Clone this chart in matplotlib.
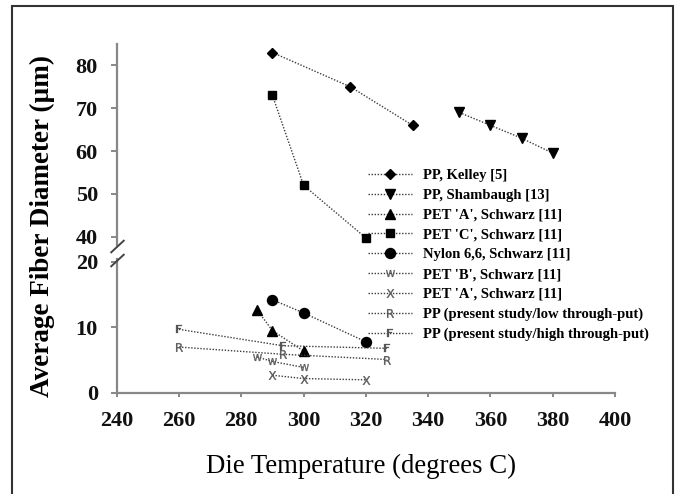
import numpy as np
import matplotlib.pyplot as plt
from matplotlib.patches import Rectangle
from matplotlib.path import Path

# die temperature (C) and average fiber diameter (um) for each series
kelley_t = [290, 315, 335]
kelley_d = [83, 75, 66]
shambaugh_t = [350, 360, 370, 380]
shambaugh_d = [69, 66, 63, 59.5]
pet_a_t = [285, 290, 300]
pet_a_d = [12.7, 9.5, 6.4]
pet_c_t = [290, 300, 320]
pet_c_d = [73, 52, 39]
nylon_t = [290, 300, 320]
nylon_d = [14.2, 12.2, 7.8]
pet_b_t = [285, 290, 300]
pet_b_d = [5.5, 4.8, 3.9]
pet_a2_t = [290, 300, 320]
pet_a2_d = [2.7, 2.2, 2.0]
pp_t = [260, 293.3, 326.7]
pp_low_d = [7.0, 5.9, 5.1]
pp_high_d = [9.7, 7.2, 6.8]

xticks = [240, 260, 280, 300, 320, 340, 360, 380, 400]
yticks = [0, 10, 20, 40, 50, 60, 70, 80]


# broken y axis: 0-20 and 40-85 drawn with different spacing, 20-40 squeezed
def fwd(y):
    y = np.asarray(y, float)
    return np.where(y <= 20, y * 6.55,
                    np.where(y < 40, 131 + (y - 20) * 1.25, 156 + (y - 40) * 4.275))


def inv(t):
    t = np.asarray(t, float)
    return np.where(t <= 131, t / 6.55,
                    np.where(t < 156, 20 + (t - 131) / 1.25, 40 + (t - 156) / 4.275))


serif_b = dict(family='Liberation Serif', weight='bold')

fig = plt.figure(figsize=(6.79, 4.94), dpi=100)
ax = fig.add_axes([0.1719, 0.2045, 0.7339, 0.7065])
ax.set_yscale('function', functions=(fwd, inv))
ax.set_xlim(240, 400)
ax.set_ylim(0, 85)

lk = dict(color='#3c3c3c', lw=1.0, ls=(0, (1, 1.2)))
ax.plot(kelley_t, kelley_d, marker='D', ms=5.5, mfc='k', mec='k', label='PP, Kelley [5]', **lk)
ax.plot(shambaugh_t, shambaugh_d, marker='v', ms=7, mfc='k', mec='k', label='PP, Shambaugh [13]', **lk)
ax.plot(pet_a_t, pet_a_d, marker='^', ms=7, mfc='k', mec='k', label="PET 'A', Schwarz [11]", **lk)
ax.plot(pet_c_t, pet_c_d, marker='s', ms=5.8, mfc='k', mec='k', label="PET 'C', Schwarz [11]", **lk)
ax.plot(nylon_t, nylon_d, marker='o', ms=7.2, mfc='k', mec='k', label='Nylon 6,6, Schwarz [11]', **lk)

letter = dict(ms=6.3, mfc='#555', mec='#555', mew=0.2)
ax.plot(pet_b_t, pet_b_d, marker=r'$\mathsf{W}$', label="PET 'B', Schwarz [11]", **letter, **lk)
ax.plot(pet_a2_t, pet_a2_d, marker=r'$\mathsf{X}$', label="PET 'A', Schwarz [11]", **letter, **lk)
ax.plot(pp_t, pp_low_d, marker=r'$\mathsf{R}$', label='PP (present study/low through-put)', **letter, **lk)
ax.plot(pp_t, pp_high_d, marker=r'$\mathsf{F}$', label='PP (present study/high through-put)', **letter, **lk)

# axes styling
for s in ['top', 'right', 'left']:
    ax.spines[s].set_visible(False)
ax.spines['bottom'].set_color('#888888')
ax.spines['bottom'].set_linewidth(1.6)

ytr = ax.get_yaxis_transform()
ax.plot([0, 0], [33.6, 85], color='#888888', lw=1.6, transform=ytr, clip_on=False)
ax.plot([0, 0], [0, 22.4], color='#888888', lw=1.6, transform=ytr, clip_on=False)
slash = Path([(-1, -0.93), (1, 0.93)])
ax.plot([0, 0], [32.8, 21.6], ls='none', marker=slash, ms=10, mec='#444444', mew=1.4,
        transform=ytr, clip_on=False)

ax.set_xticks(xticks)
ax.set_yticks(yticks)
ax.set_yticklabels([str(v) for v in yticks])
ax.minorticks_off()
ax.tick_params(axis='y', direction='out', length=4.5, width=1.4, color='#888888', pad=9)
ax.tick_params(axis='x', direction='out', length=3, width=1.4, color='#888888', pad=10)
for lab in ax.get_xticklabels() + ax.get_yticklabels():
    lab.set_fontfamily('Liberation Serif')
    lab.set_fontweight('bold')
    lab.set_fontsize(16)
    lab.set_color('#111111')

ax.set_ylabel('Average Fiber Diameter (\u00b5m)', fontsize=19.5, va='center', **serif_b)
ax.yaxis.set_label_coords(-0.150, 0.4785)
ax.set_xlabel('Die Temperature (degrees C)', fontsize=19.3, family='Liberation Serif', va='center')
ax.xaxis.set_label_coords(0.49, -0.21)

ax.legend(loc='upper left', bbox_to_anchor=(368 / 679, 1 - 169 / 494), bbox_transform=fig.transFigure,
          frameon=False, prop=dict(size=10.5, **serif_b), handlelength=3.0, handletextpad=0.75,
          labelspacing=0.45, borderpad=0, borderaxespad=0)

fig.add_artist(Rectangle((12 / 679, -0.02), 661 / 679, 1.0079, transform=fig.transFigure,
                         fill=False, ec='#333333', lw=1.5))

fig.savefig('out.png', dpi=100)
